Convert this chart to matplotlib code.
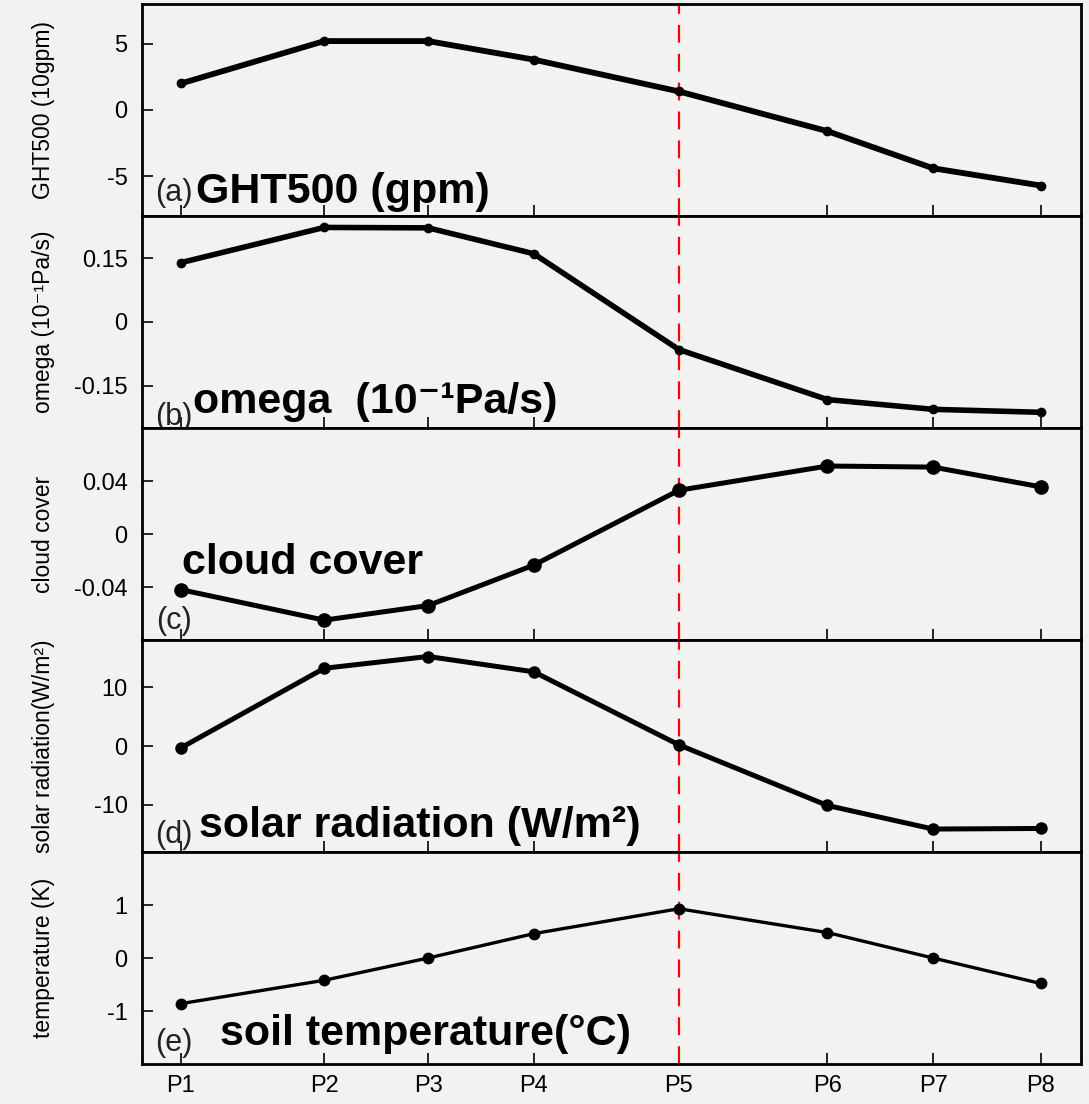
import matplotlib
matplotlib.use("Agg")
import matplotlib.pyplot as plt

plt.rcParams['font.family'] = ['Liberation Sans', 'DejaVu Sans']
plt.rcParams['axes.unicode_minus'] = False

# x positions of the stations (uneven spacing as in the figure)
x_pos = [0, 4, 6.9, 9.85, 13.9, 18.05, 21, 24]
x_labels = ["P1", "P2", "P3", "P4", "P5", "P6", "P7", "P8"]
split_idx = 4  # P5, red dashed line

ght500 = [2.0, 5.2, 5.2, 3.8, 1.4, -1.6, -4.4, -5.7]
omega = [0.14, 0.223, 0.222, 0.161, -0.065, -0.183, -0.206, -0.213]
cloud = [-0.042, -0.065, -0.054, -0.0235, 0.033, 0.0513, 0.0505, 0.0356]
solar = [-0.3, 13.2, 15.2, 12.6, 0.2, -10.1, -14.1, -14.0]
soil = [-0.86, -0.42, 0.0, 0.46, 0.93, 0.48, 0.0, -0.48]

series = [ght500, omega, cloud, solar, soil]
ylabels = ["GHT500 (10gpm)", "omega (10\u207b\u00b9Pa/s)", "cloud cover",
           "solar radiation(W/m\u00b2)", "temperature (K)"]
tags = ["(a)", "(b)", "(c)", "(d)", "(e)"]
titles = ["GHT500 (gpm)", "omega  (10\u207b\u00b9Pa/s)", "cloud cover",
          "solar radiation (W/m\u00b2)", "soil temperature(\u00b0C)"]
ylims = [(-8, 8), (-0.25, 0.25), (-0.08, 0.08), (-18, 18), (-2, 2)]
yticks = [[-5, 0, 5], [-0.15, 0, 0.15], [-0.04, 0, 0.04], [-10, 0, 10], [-1, 0, 1]]
yticklabels = [["-5", "0", "5"], ["-0.15", "0", "0.15"], ["-0.04", "0", "0.04"],
               ["-10", "0", "10"], ["-1", "0", "1"]]

line_w = [4.2, 4.0, 3.6, 3.6, 2.4]
mark_s = [6, 6, 9.5, 8, 7.5]
# title placement (axes fraction): x, y baseline
title_pos = [(0.058, 0.06), (0.055, 0.07), (0.043, 0.31), (0.061, 0.07), (0.084, 0.09)]
tag_pos = [(0.014, 0.04), (0.014, -0.02), (0.016, 0.02), (0.014, 0.01), (0.014, 0.03)]

bg = "#f2f2f0"
fig = plt.figure(figsize=(10.89, 11.04), dpi=100, facecolor=bg)
gs = fig.add_gridspec(5, 1, left=0.130, right=0.9927, top=0.9964, bottom=0.0362, hspace=0)

for i in range(5):
    ax = fig.add_subplot(gs[i])
    ax.set_facecolor(bg)
    ax.plot(x_pos, series[i], color="black", lw=line_w[i], marker="o",
            ms=mark_s[i], zorder=3)
    ax.axvline(x_pos[split_idx], color="red", lw=1.6, ls=(0, (8, 5)), zorder=2)
    ax.set_xlim(-1.1, 25.13)
    ax.set_ylim(*ylims[i])
    ax.set_yticks(yticks[i])
    ax.set_yticklabels(yticklabels[i])
    ax.set_xticks(x_pos)
    if i == 4:
        ax.set_xticklabels(x_labels)
    else:
        ax.set_xticklabels([])
    ax.tick_params(axis="both", direction="in", length=8, width=1.2,
                   labelsize=17, colors="black")
    ax.tick_params(axis="y", pad=10)
    ax.tick_params(axis="x", pad=8)
    for s in ax.spines.values():
        s.set_linewidth(2)
    ax.set_ylabel(ylabels[i], fontsize=16.5)
    ax.yaxis.set_label_coords(-0.092, 0.5)
    ax.text(tag_pos[i][0], tag_pos[i][1], tags[i], transform=ax.transAxes,
            fontsize=22, va="bottom", ha="left", color="#222222")
    ax.text(title_pos[i][0], title_pos[i][1], titles[i], transform=ax.transAxes,
            fontsize=31, fontweight="bold", va="baseline", ha="left")

fig.savefig("out.png", dpi=100, facecolor=bg)
